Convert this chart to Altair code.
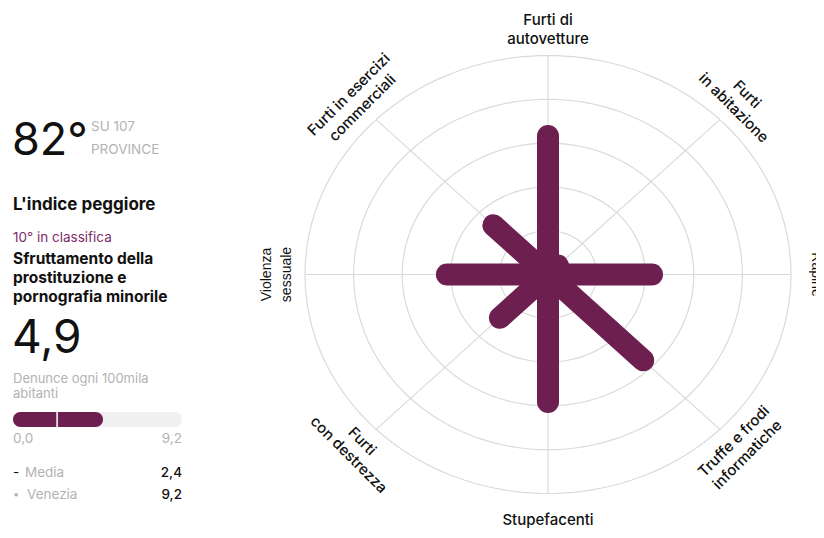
import json
import altair as alt
import pandas as pd

# ---------------- data ----------------
categories = ["Furti di autovetture", "Furti in abitazione", "Rapine",
              "Truffe e frodi informatiche", "Stupefacenti", "Furti con destrezza",
              "Violenza sessuale", "Furti in esercizi commerciali"]
label_texts = ["Furti di\nautovetture", "Furti\nin abitazione", "Rapine",
               "Truffe e frodi\ninformatiche", "Stupefacenti", "Furti\ncon destrezza",
               "Violenza\nsessuale", "Furti in esercizi\ncommerciali"]
scores = [3.16, 0.29, 2.14, 2.77, 2.91, 1.40, 2.08, 1.59]
ring_levels = [1, 2, 3, 4, 5]

rank_position = 82
total_provinces = 107
worst_rank = 10
worst_name_lines = ["Sfruttamento della", "prostituzione e", "pornografia minorile"]
worst_value = 4.9
average_value = 2.4
max_value = 9.2
max_province = "Venezia"
unit_lines = ["Denunce ogni 100mila", "abitanti"]


def fmt(v):
    return f"{v:.1f}".replace(".", ",")


# ---------------- style ----------------
PURPLE = "#6d1f50"
GRID = "#dadada"
GRAY_TXT = "#b3b3b3"
DARK = "#111111"
FONT = "Inter"

W, H = 808, 522
CX, CY = 540, 266.5
RX, RY = 243, 219
PX_X, PX_Y = RX / 5, RY / 5
LH_MAIN, LH_SIDE = 19, 20

xs = alt.Scale(domain=[-5, 5], range=[CX - RX, CX + RX])
ys = alt.Scale(domain=[-5, 5], range=[CY + RY, CY - RY])

radar = pd.DataFrame({
    "category": categories,
    "label": label_texts,
    "score": scores,
    "idx": list(range(len(categories))),
})
radar["lines"] = radar["label"].str.count("\n") + 1

base = alt.Chart(radar).transform_calculate(ang="datum.idx * PI / 4")

rings = alt.Chart(alt.sequence(0, 362, 2, as_="t")).transform_calculate(
    r=json.dumps(ring_levels)
).transform_flatten(["r"]).transform_calculate(
    gx="datum.r * cos(datum.t * PI / 180)",
    gy="datum.r * sin(datum.t * PI / 180)",
).mark_line(color=GRID, strokeWidth=1.2).encode(
    x=alt.X("gx:Q", scale=xs, axis=None),
    y=alt.Y("gy:Q", scale=ys, axis=None),
    detail="r:N",
    order="t:Q",
)

spokes = base.transform_calculate(
    x0="0", y0="0",
    x1="5 * sin(datum.ang)", y1="5 * cos(datum.ang)",
).mark_rule(color=GRID, strokeWidth=1.2).encode(
    x=alt.X("x0:Q", scale=xs, axis=None),
    y=alt.Y("y0:Q", scale=ys, axis=None),
    x2="x1:Q", y2="y1:Q",
)

bars = base.transform_calculate(
    x0="0", y0="0",
    x1="datum.score * sin(datum.ang)", y1="datum.score * cos(datum.ang)",
).mark_rule(color=PURPLE, strokeWidth=22, strokeCap="round").encode(
    x=alt.X("x0:Q", scale=xs, axis=None),
    y=alt.Y("y0:Q", scale=ys, axis=None),
    x2="x1:Q", y2="y1:Q",
)


def label_layer(filter_expr, lh, radius_expr, **mark_kw):
    return base.transform_filter(filter_expr).transform_calculate(
        lr=radius_expr,
        deg="datum.idx * 45",
        rot="(datum.deg > 90 && datum.deg < 270) ? (datum.deg + 180) % 360 : datum.deg",
        sh=f"(datum.lines - 1) * {lh} / 2",
        lx=f"datum.lr * sin(datum.ang) + datum.sh * sin(datum.rot * PI / 180) / {PX_X}",
        ly=f"datum.lr * cos(datum.ang) + datum.sh * cos(datum.rot * PI / 180) / {PX_Y}",
    ).mark_text(lineBreak="\n", align="center", baseline="middle",
                lineHeight=lh, color=DARK, **mark_kw).encode(
        x=alt.X("lx:Q", scale=xs, axis=None),
        y=alt.Y("ly:Q", scale=ys, axis=None),
        text="label:N",
        angle=alt.Angle("rot:Q", scale=None),
    )


labels_main = label_layer("datum.idx != 2 && datum.idx != 6", LH_MAIN,
                          "datum.lines == 1 ? 5.6 : 5.6",
                          font=FONT, fontSize=15, fontWeight=500)
labels_side = label_layer("datum.idx == 2 || datum.idx == 6", LH_SIDE,
                          "datum.lines == 1 ? 5.52 : 5.58",
                          font="Liberation Sans", fontSize=14)


# ---------------- left panel ----------------
def txt(s, x, y, size=13.5, color=DARK, weight=400, align="left", font=FONT):
    return alt.Chart(pd.DataFrame({"t": [s]})).mark_text(
        align=align, baseline="alphabetic", font=font, fontSize=size,
        fontWeight=weight, color=color,
    ).encode(x=alt.value(x), y=alt.value(y), text="t:N")


panel = [
    txt(f"{rank_position}°", 4, 147, size=45),
    txt(f"SU {total_provinces}", 83, 123, color=GRAY_TXT),
    txt("PROVINCE", 83, 146, color=GRAY_TXT),
    txt("L'indice peggiore", 5, 202, size=17, weight=700),
    txt(f"{worst_rank}° in classifica", 5, 234, color="#7d2c6a"),
]
for i, line in enumerate(worst_name_lines):
    panel.append(txt(line, 5, 256 + 19 * i, size=15.5, weight=700))
panel.append(txt(fmt(worst_value), 4, 345, size=46))
for i, line in enumerate(unit_lines):
    panel.append(txt(line, 5, 375 + 14.5 * i, size=13, color=GRAY_TXT))

bar_scale = alt.Scale(domain=[0, max_value], range=[5, 174])
mini = pd.DataFrame({"start": [0.0, 0.0], "end": [max_value, worst_value],
                     "kind": ["bg", "fg"]})
bg_bar = alt.Chart(mini).transform_filter("datum.kind == 'bg'").mark_rect(
    color="#f0f0f0", cornerRadius=7.5
).encode(x=alt.X("start:Q", scale=bar_scale, axis=None), x2="end:Q",
         y=alt.value(404), y2=alt.value(419))
fg_bar = alt.Chart(mini).transform_filter("datum.kind == 'fg'").mark_rect(
    color=PURPLE, cornerRadius=7.5
).encode(x=alt.X("start:Q", scale=bar_scale, axis=None), x2="end:Q",
         y=alt.value(404), y2=alt.value(419))
avg_tick = alt.Chart(pd.DataFrame({"avg": [average_value]})).mark_rule(
    color="white", strokeWidth=1.5
).encode(x=alt.X("avg:Q", scale=bar_scale, axis=None),
         y=alt.value(404), y2=alt.value(419))

panel += [
    txt(fmt(0), 5, 435, color=GRAY_TXT),
    txt(fmt(max_value), 174, 435, color=GRAY_TXT, align="right"),
    txt("-", 5, 469, color=DARK),
    txt("Media", 17, 469, color=GRAY_TXT),
    txt(fmt(average_value), 174, 469, color=DARK, weight=500, align="right"),
    txt("•", 5, 490, color=GRAY_TXT, size=11),
    txt(max_province, 19, 491, color=GRAY_TXT),
    txt(fmt(max_value), 174, 491, color=DARK, weight=500, align="right"),
]

chart = alt.layer(
    rings, spokes, bars, labels_main, labels_side,
    bg_bar, fg_bar, avg_tick, *panel
).resolve_scale(x="independent", y="independent").properties(
    width=W, height=H, padding=0,
    autosize=alt.AutoSizeParams(type="none"),
    background="white",
).configure_view(strokeWidth=0)

chart.save("out.html", embed_options={"renderer": "svg", "actions": False})
